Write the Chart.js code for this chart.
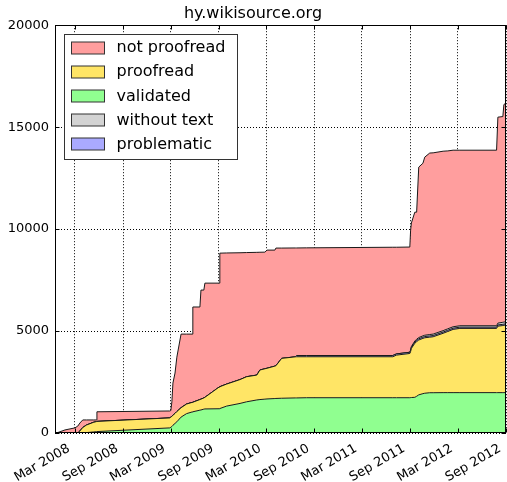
<!DOCTYPE html>
<html>
<head>
<meta charset="utf-8">
<script src="https://cdn.jsdelivr.net/npm/chart.js@4.4.0/dist/chart.umd.min.js"></script>
<style>
  html, body { margin: 0; padding: 0; background: #fff; }
</style>
</head>
<body>
<canvas id="visual" width="507" height="482"></canvas>
<script>
// sample dates
const dates = [
  '2007-12-22', '2008-01-23', '2008-03-01', '2008-03-12', '2008-03-20',
  '2008-03-31', '2008-04-14', '2008-05-10', '2008-05-22', '2008-05-24',
  '2009-02-26', '2009-03-02', '2009-03-06', '2009-03-10', '2009-03-18',
  '2009-03-25', '2009-04-10', '2009-05-01', '2009-05-22', '2009-05-25',
  '2009-06-21', '2009-06-25', '2009-07-06', '2009-07-10', '2009-09-02',
  '2009-09-05', '2009-10-01', '2009-11-21', '2009-12-16', '2010-01-24',
  '2010-02-05', '2010-02-24', '2010-03-04', '2010-04-03', '2010-04-07',
  '2010-04-29', '2010-06-20', '2010-06-25', '2010-08-02', '2011-06-27',
  '2011-07-11', '2011-08-31', '2011-09-03', '2011-09-06', '2011-09-19',
  '2011-09-26', '2011-10-04', '2011-10-20', '2011-10-27', '2011-11-15',
  '2011-11-28', '2012-01-05', '2012-01-23', '2012-02-12', '2012-03-09',
  '2012-07-27', '2012-08-01', '2012-08-20', '2012-08-24', '2012-09-01',
];

// page counts per state (stacked bottom to top)
const validated = [
  0, 0, 0, 0, 0, 0, 20, 50, 65, 70,
  250, 280, 320, 380, 470, 550, 780, 950, 1030, 1040,
  1120, 1130, 1170, 1180, 1190, 1200, 1320, 1450, 1530, 1620,
  1640, 1660, 1670, 1690, 1695, 1705, 1720, 1720, 1730, 1730,
  1730, 1730, 1735, 1740, 1750, 1800, 1870, 1930, 1950, 1975,
  1975, 1980, 1980, 1980, 1980, 1980, 1980, 1980, 1980, 1980,
];
const proofread = [
  0, 0, 0, 0, 100, 270, 370, 470, 495, 500,
  490, 500, 500, 490, 490, 500, 460, 470, 470, 470,
  520, 530, 550, 570, 1060, 1070, 1080, 1170, 1230, 1220,
  1450, 1490, 1505, 1590, 1605, 1955, 2015, 2020, 2010, 2010,
  2090, 2170, 2265, 2410, 2650, 2680, 2690, 2710, 2720, 2725,
  2745, 2910, 3000, 3100, 3150, 3150, 3260, 3290, 3300, 3320,
];
const problematic = [
  0, 0, 0, 0, 0, 0, 0, 0, 0, 0,
  0, 0, 0, 0, 0, 0, 0, 0, 0, 0,
  0, 0, 0, 0, 0, 0, 0, 0, 0, 0,
  0, 0, 0, 0, 0, 0, 0, 60, 60, 60,
  60, 60, 60, 60, 60, 60, 60, 60, 60, 60,
  60, 60, 60, 60, 60, 60, 60, 60, 60, 60,
];
const withoutText = [
  0, 0, 0, 0, 0, 0, 0, 0, 0, 0,
  0, 0, 0, 0, 0, 0, 0, 0, 0, 0,
  0, 0, 0, 0, 0, 0, 0, 0, 0, 0,
  0, 0, 0, 0, 0, 0, 0, 0, 0, 0,
  0, 0, 10, 30, 50, 60, 60, 65, 65, 70,
  70, 70, 70, 70, 70, 70, 90, 100, 100, 100,
];
const notProofread = [
  0, 150, 250, 340, 390, 370, 250, 120, 80, 470,
  340, 320, 710, 1580, 1980, 2670, 3610, 3430, 3350, 4670,
  4540, 5350, 5290, 5600, 5100, 6550, 6430, 6220, 6090, 6020,
  5775, 5720, 5795, 5690, 5770, 5410, 5340, 5275, 5280, 5310,
  5230, 5160, 5880, 6060, 6320, 6230, 8360, 8465, 8735, 8900,
  8890, 8800, 8725, 8660, 8610, 8610, 10100, 10090, 10670, 10720,
];

const tickDates = [
  '2008-03-01', '2008-09-01', '2009-03-01', '2009-09-01', '2010-03-01',
  '2010-09-01', '2011-03-01', '2011-09-01', '2012-03-01', '2012-09-01',
];
const tickLabels = [
  'Mar 2008', 'Sep 2008', 'Mar 2009', 'Sep 2009', 'Mar 2010',
  'Sep 2010', 'Mar 2011', 'Sep 2011', 'Mar 2012', 'Sep 2012',
];
const yTicks = [0, 5000, 10000, 15000, 20000];
const legendOrder = ['not proofread', 'proofread', 'validated', 'without text', 'problematic'];

const toDay = (d) => Date.parse(d) / 86400000;
const days = dates.map(toDay);
const series = (values) => values.map((y, i) => ({x: days[i], y}));

Chart.defaults.font.family = '"DejaVu Sans", sans-serif';
Chart.defaults.color = '#000';

const datasets = [
  {label: 'validated', data: series(validated), backgroundColor: '#90ff90', fill: 'origin'},
  {label: 'proofread', data: series(proofread), backgroundColor: '#ffe566', fill: '-1'},
  {label: 'problematic', data: series(problematic), backgroundColor: '#aaaaff', fill: '-1'},
  {label: 'without text', data: series(withoutText), backgroundColor: '#d3d3d3', fill: '-1'},
  {label: 'not proofread', data: series(notProofread), backgroundColor: '#ff9e9e', fill: '-1'},
].map((ds) => ({...ds, borderColor: '#1a1a1a', borderWidth: 1, pointRadius: 0, tension: 0}));

// frame, inward tick marks and the boxed legend, matplotlib style
const decorations = {
  id: 'decorations',
  afterDraw(chart) {
    const {ctx, chartArea: a, scales} = chart;
    const L = Math.round(a.left) + 0.5;
    const R = Math.round(a.right) - 0.5;
    const T = Math.round(a.top) + 0.5;
    const B = Math.round(a.bottom) - 0.5;
    ctx.save();
    ctx.strokeStyle = '#000';
    ctx.lineWidth = 1;
    ctx.setLineDash([]);
    ctx.beginPath();
    tickDates.forEach((d) => {
      const x = Math.round(scales.x.getPixelForValue(toDay(d))) + 0.5;
      ctx.moveTo(x, B); ctx.lineTo(x, B - 4);
      ctx.moveTo(x, T); ctx.lineTo(x, T + 4);
    });
    yTicks.forEach((v) => {
      const y = Math.round(scales.y.getPixelForValue(v)) + 0.5;
      ctx.moveTo(L, y); ctx.lineTo(L + 4, y);
      ctx.moveTo(R, y); ctx.lineTo(R - 4, y);
    });
    ctx.stroke();
    ctx.strokeRect(L, T, R - L, B - T);

    // legend
    const bx = L + 9;
    const by = T + 9;
    ctx.fillStyle = '#fff';
    ctx.fillRect(bx, by, 173, 125);
    ctx.strokeStyle = '#333';
    ctx.strokeRect(bx, by, 173, 125);
    ctx.font = '16px "DejaVu Sans"';
    ctx.textBaseline = 'middle';
    ctx.textAlign = 'left';
    legendOrder.forEach((label, i) => {
      const ds = chart.data.datasets.find((d) => d.label === label);
      const py = by + 7 + i * 24.2;
      ctx.fillStyle = ds.backgroundColor;
      ctx.fillRect(bx + 7, Math.round(py), 33, 12);
      ctx.strokeStyle = '#333';
      ctx.strokeRect(bx + 7, Math.round(py), 33, 12);
      ctx.fillStyle = '#000';
      ctx.fillText(label, bx + 52, py + 6.5);
    });
    ctx.restore();
  },
};

new Chart('visual', {
  type: 'line',
  data: {datasets},
  options: {
    responsive: false,
    animation: false,
    events: [],
    layout: {padding: {right: 1}},
    plugins: {
      legend: {display: false},
      tooltip: {enabled: false},
      title: {
        display: true,
        text: 'hy.wikisource.org',
        font: {size: 16, weight: 'normal'},
        padding: {top: 4, bottom: 2},
      },
    },
    scales: {
      x: {
        type: 'linear',
        min: toDay('2007-12-16'),
        max: toDay('2012-09-01'),
        z: 1,
        grid: {color: '#000', lineWidth: 1, drawTicks: false},
        border: {display: false, dash: [1, 2]},
        afterBuildTicks: (scale) => {
          scale.ticks = tickDates.map((d) => ({value: toDay(d)}));
        },
        afterFit: (scale) => {
          scale.height = 49;
          scale.paddingLeft = 0;
          scale.paddingRight = 0;
        },
        ticks: {
          autoSkip: false,
          minRotation: 30,
          maxRotation: 30,
          padding: 8,
          labelOffset: -6,
          font: {size: 13},
          callback: (value, index) => tickLabels[index],
        },
      },
      y: {
        stacked: true,
        min: 0,
        max: 20000,
        z: 1,
        grid: {color: '#000', lineWidth: 1, drawTicks: false},
        border: {display: false, dash: [1, 2]},
        afterBuildTicks: (scale) => {
          scale.ticks = yTicks.map((v) => ({value: v}));
        },
        afterFit: (scale) => {
          scale.width = 55;
        },
        ticks: {
          padding: 6,
          font: {size: 13},
          callback: (value) => String(value),
        },
      },
    },
  },
  plugins: [decorations],
});
</script>
</body>
</html>
